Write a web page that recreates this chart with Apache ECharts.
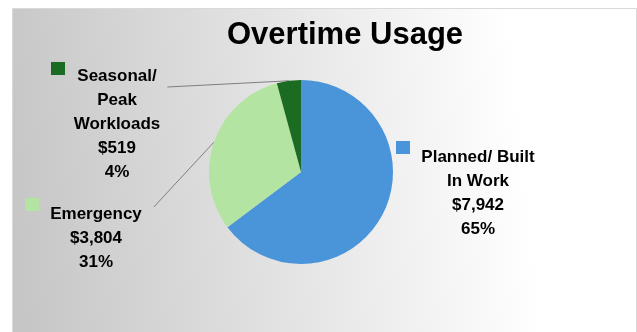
<!DOCTYPE html>
<html>
<head>
<meta charset="utf-8">
<script src="https://cdn.jsdelivr.net/npm/echarts@6/dist/echarts.min.js"></script>
<style>
  html, body { margin: 0; padding: 0; background: #ffffff; }
  #chart { width: 637px; height: 332px; }
</style>
</head>
<body>
<div id="chart"></div>
<script>
// Overtime spend by category (dollars)
const categories = ['Planned/ Built\nIn Work', 'Emergency', 'Seasonal/\nPeak\nWorkloads'];
const amounts = [7942, 3804, 519];
const chartTitle = 'Overtime Usage';

const sliceColors = ['#4a94d9', '#b3e4a1', '#1c6b23'];

// Where each label block sits (centre x, top y) and where its leader line ends
const labelSpots = [
  { x: 478, y: 145, tail: null },
  { x: 96, y: 202, tail: [12, 5] },
  { x: 117, y: 64, tail: [7, 23] }
];
// Legend-style colour keys beside each label
const keySpots = [
  { left: 396, top: 141 },
  { left: 25, top: 198 },
  { left: 51, top: 62 }
];

const chart = echarts.init(document.getElementById('chart'), null, { renderer: 'canvas' });

const legends = categories.map(function (name, i) {
  return {
    data: [name],
    left: keySpots[i].left,
    top: keySpots[i].top,
    padding: 0,
    itemGap: 0,
    itemWidth: 14,
    itemHeight: 13,
    icon: 'rect',
    selectedMode: false,
    formatter: function () { return ''; },
    textStyle: { fontSize: 1 }
  };
});

chart.setOption({
  animation: false,
  graphic: [{
    type: 'rect',
    z: -10,
    silent: true,
    shape: { x: 12.5, y: 8.5, width: 624, height: 324 },
    style: {
      fill: {
        type: 'linear', x: 0, y: 0.6, x2: 1, y2: 0.4,
        colorStops: [
          { offset: 0, color: '#c6c6c6' },
          { offset: 0.82, color: '#ffffff' },
          { offset: 1, color: '#ffffff' }
        ]
      },
      stroke: '#d9d9d9',
      lineWidth: 1
    }
  }],
  title: {
    text: chartTitle,
    left: 227,
    top: 20,
    padding: 0,
    textStyle: {
      fontFamily: 'Liberation Sans, Arial, sans-serif',
      fontWeight: 'bold',
      fontSize: 31,
      color: '#000000'
    }
  },
  legend: legends,
  series: [{
    type: 'pie',
    center: [301, 172],
    radius: 92,
    startAngle: 90,
    clockwise: true,
    percentPrecision: 0,
    avoidLabelOverlap: false,
    itemStyle: { borderWidth: 0 },
    label: {
      show: true,
      position: 'outside',
      align: 'center',
      fontFamily: 'Liberation Sans, Arial, sans-serif',
      fontWeight: 'bold',
      fontSize: 17,
      lineHeight: 24,
      color: '#000000',
      formatter: function (p) {
        return p.name + '\n$' + p.value.toLocaleString('en-US') + '\n' + p.percent + '%';
      }
    },
    labelLine: {
      show: true,
      length: 10,
      length2: 10,
      lineStyle: { color: '#7f7f7f', width: 1 }
    },
    labelLayout: function (p) {
      const spot = labelSpots[p.dataIndex];
      const out = { x: spot.x, y: spot.y, align: 'center', verticalAlign: 'top' };
      if (spot.tail && p.labelLinePoints) {
        const rightEdge = spot.x + p.labelRect.width / 2;
        out.labelLinePoints = [
          p.labelLinePoints[0],
          [rightEdge + spot.tail[0], spot.y + spot.tail[1]]
        ];
      }
      return out;
    },
    data: categories.map(function (name, i) {
      return {
        name: name,
        value: amounts[i],
        itemStyle: { color: sliceColors[i] },
        labelLine: { show: i !== 0 }
      };
    })
  }]
});
</script>
</body>
</html>
